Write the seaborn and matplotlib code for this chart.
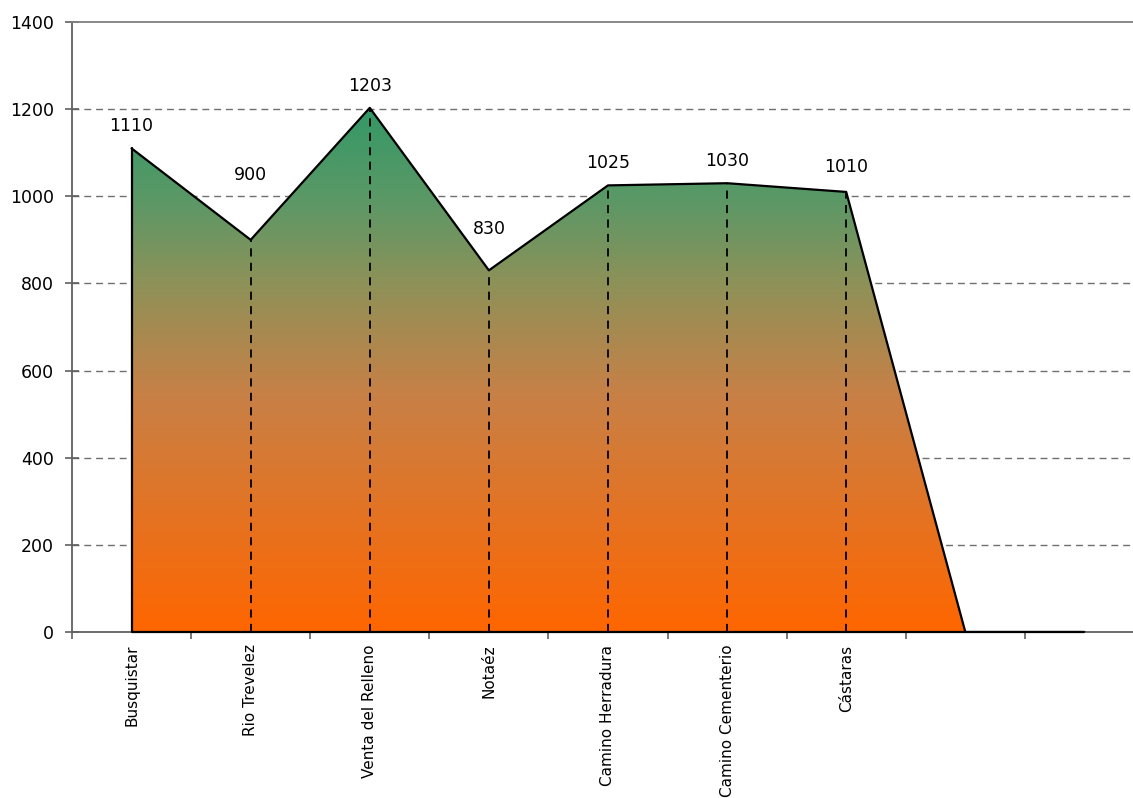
import numpy as np
import pandas as pd
import matplotlib
matplotlib.use("Agg")
import matplotlib.pyplot as plt
from matplotlib.colors import LinearSegmentedColormap
from matplotlib.patches import Polygon
import seaborn as sns

# ---- data ----
categories = ["Busquistar", "Rio Trevelez", "Venta del Relleno", "Notaéz",
              "Camino Herradura", "Camino Cementerio", "Cástaras", "", ""]
elevation = [1110, 900, 1203, 830, 1025, 1030, 1010, 0, 0]
value_labels = ["1110", "900", "1203", "830", "1025", "1030", "1010", "", ""]
yticks = [0, 200, 400, 600, 800, 1000, 1200, 1400]

# label centre offsets above points (points) - style only
label_offsets = [16, 47, 16, 30, 16, 16, 18, 0, 0]

sns.set_theme(style="white")
plt.rcParams['font.family'] = ['DejaVu Sans']

W, H = 1133, 798
fig = plt.figure(figsize=(W / 100, H / 100), dpi=100)
ax = fig.add_axes([72 / W, 166 / H, (1144 - 72) / W, 610 / H])

df = pd.DataFrame({"pos": np.arange(len(categories)), "elev": elevation})
x = df["pos"].to_numpy()
y = df["elev"].to_numpy()

ax.set_xlim(-0.5, len(categories) - 0.5)
ax.set_ylim(0, 1400)

# gridlines
for t in yticks[1:-1]:
    ax.axhline(t, color="#707070", lw=1.0, ls=(0, (5, 3.5)), zorder=0)

# gradient fill clipped to area polygon
cmap = LinearSegmentedColormap.from_list(
    "elev",
    [(0.0, (1.0, 0.40, 0.0)),
     (0.45, (200 / 255, 128 / 255, 70 / 255)),
     (0.66, (143 / 255, 145 / 255, 88 / 255)),
     (0.82, (92 / 255, 152 / 255, 102 / 255)),
     (1.0, (51 / 255, 153 / 255, 102 / 255))])
verts = [(x[0], 0)] + list(zip(x, y)) + [(x[-1], 0)]
poly = Polygon(verts, closed=True, facecolor="none", edgecolor="none")
ax.add_patch(poly)
grad = np.linspace(0, 1, 256).reshape(-1, 1)
im = ax.imshow(grad, extent=[x[0], x[-1], 0, max(y)], origin="lower",
               aspect="auto", cmap=cmap, zorder=1)
im.set_clip_path(poly)

# drop lines
for xi, yi in zip(x[1:], y[1:]):
    if yi > 0:
        ax.plot([xi, xi], [0, yi], color="black", lw=1.3,
                ls=(0, (4.5, 3.5)), zorder=2)

# outline
sns.lineplot(data=df, x="pos", y="elev", color="black", lw=1.6, ax=ax,
             zorder=3, legend=False)
ax.plot([x[0], x[0]], [0, y[0]], color="black", lw=1.6, zorder=3)
ax.plot([x[0], x[-1]], [0, 0], color="black", lw=1.6, zorder=3,
        clip_on=False)

# value labels
for xi, yi, lab, off in zip(x, y, value_labels, label_offsets):
    if lab:
        ax.annotate(lab, (xi, yi), xytext=(0, off), textcoords="offset points",
                    ha="center", va="center", fontsize=12.5, color="black")

# axes styling
ax.set_yticks(yticks)
ax.set_yticklabels([str(t) for t in yticks], fontsize=12.5, color="black")
ax.set_xticks(x)
ax.set_xticklabels(categories, rotation=90, fontsize=11, va="top",
                   color="black")
ax.tick_params(axis="x", which="major", length=0, pad=9)
ax.set_xticks(np.arange(-0.5, len(categories) + 0.5, 1), minor=True)
ax.tick_params(axis="x", which="minor", bottom=True, length=5, width=1.2,
               color="#606060", direction="out")
ax.tick_params(axis="y", left=True, length=10, width=1.2, color="#606060",
               direction="inout", pad=8)
ax.set_xlabel("")
ax.set_ylabel("")
for s in ["left", "bottom"]:
    ax.spines[s].set_color("#606060")
    ax.spines[s].set_linewidth(1.3)
ax.spines["top"].set_color("#808080")
ax.spines["top"].set_linewidth(1.3)
ax.spines["right"].set_visible(False)
ax.set_facecolor("white")
fig.patch.set_facecolor("white")

fig.savefig("out.png", dpi=100)
